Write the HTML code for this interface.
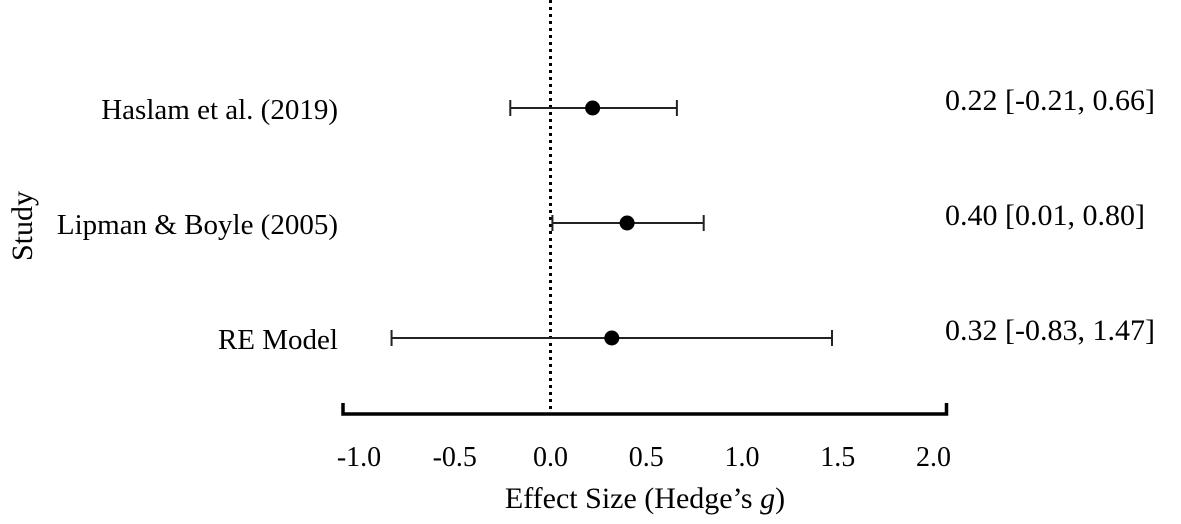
<!DOCTYPE html>
<html><head><meta charset="utf-8"><style>
html,body{margin:0;padding:0;background:#fff;}
svg{display:block;font-family:"Liberation Serif",serif;}
</style></head><body>
<svg id="chart" width="1181" height="524">
<g id="plot"></g>
</svg>
<script>
const studies = ["Haslam et al. (2019)", "Lipman & Boyle (2005)", "RE Model"];
const estimates = [0.22, 0.40, 0.32];
const lowers = [-0.21, 0.01, -0.83];
const uppers = [0.66, 0.80, 1.47];
const ciLabels = ["0.22 [-0.21, 0.66]", "0.40 [0.01, 0.80]", "0.32 [-0.83, 1.47]"];
const ticks = [-1.0, -0.5, 0.0, 0.5, 1.0, 1.5, 2.0];
const tickLabels = ["-1.0", "-0.5", "0.0", "0.5", "1.0", "1.5", "2.0"];

const NS = "http://www.w3.org/2000/svg";
const g = document.getElementById('plot');
const xS = v => 550.5 + v * 191.5;
const yS = i => 108 + i * 115;
function mk(tag, attrs, parent) {
  const e = document.createElementNS(NS, tag);
  for (const k in attrs) e.setAttribute(k, attrs[k]);
  (parent || g).appendChild(e);
  return e;
}
let z = mk('line', {x1: xS(0), x2: xS(0), y1: 0, y2: 414, stroke: '#000', 'stroke-width': 3, 'stroke-dasharray': '3,4'});


const axY = 414;
let ax = mk('path', {d: `M${xS(-1.0)-16},${axY-11} V${axY} H${xS(2.0)+13} V${axY-11}`, fill: 'none', stroke: '#000', 'stroke-width': 3.5});


ticks.forEach((t, i) => {
  const tx = mk('text', {x: xS(t), y: 466, 'text-anchor': 'middle', 'font-size': 28});
  tx.textContent = tickLabels[i];
  
  
});
let xt = mk('text', {x: 645, y: 508, 'text-anchor': 'middle', 'font-size': 30});
xt.innerHTML = 'Effect Size (Hedge’s <tspan font-style="italic">g</tspan>)';


let yt = mk('text', {x: 0, y: 0, 'text-anchor': 'middle', 'font-size': 30, transform: 'translate(32,226) rotate(-90)'});
yt.textContent = 'Study';



studies.forEach((s, i) => {
  const y = yS(i);
  const lab = mk('text', {x: 338, y: y + 11, 'text-anchor': 'end', 'font-size': 29});
  lab.textContent = s;
  
  
  const ci = mk('path', {d: `M${xS(lowers[i])},${y-8} V${y+8} M${xS(lowers[i])},${y} H${xS(uppers[i])} M${xS(uppers[i])},${y-8} V${y+8}`, fill: 'none', stroke: '#222', 'stroke-width': 2});
  
  
  const pt = mk('circle', {cx: xS(estimates[i]), cy: y, r: 7.5, fill: '#000'});
  
  
  const ct = mk('text', {x: 945, y: y + 2, 'font-size': 30});
  ct.textContent = ciLabels[i];
  
  
});
</script>
</body></html>
